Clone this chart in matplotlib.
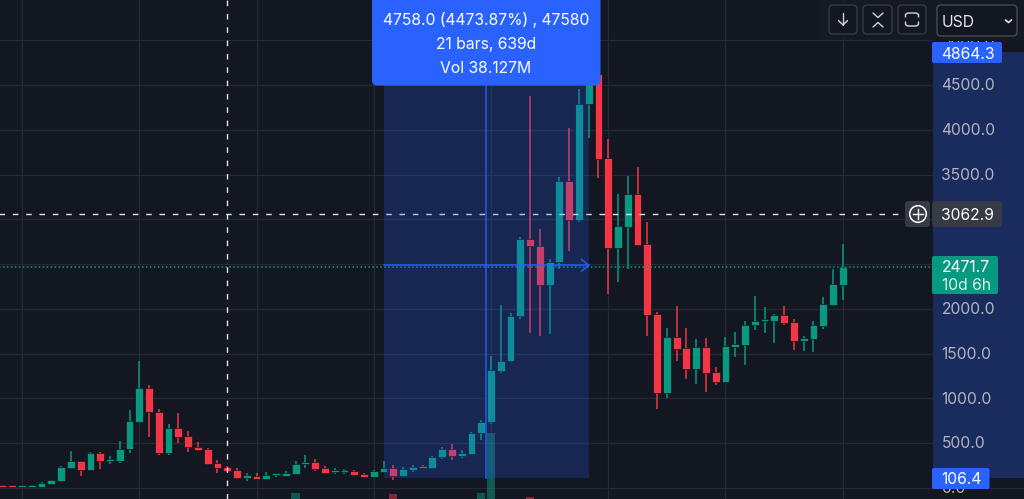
import matplotlib
matplotlib.use("Agg")
import numpy as np
import matplotlib.pyplot as plt
from matplotlib.patches import FancyBboxPatch, Rectangle, Circle

plt.rcParams['font.family'] = ['Inter', 'DejaVu Sans']

BG = '#131722'
GREEN = '#089981'
RED = '#F23645'
BLUE = '#2962FF'
FS = 11.3

opens = [20, 20, 10, 12, 12, 46, 72, 221, 295, 202, 389, 303, 303, 433, 739, 1111, 850, 392, 672, 575, 459, 433,
         277, 232, 195, 106, 135, 98, 139, 132, 154, 266, 292, 217, 173, 176, 184, 158, 120, 176, 217, 132, 202,
         243, 221, 340, 433, 355, 381, 612, 735, 1309, 1417, 1916, 2776, 2702, 2270, 2523, 3432, 2996, 4284, 4623,
         3681, 2683, 2918, 3283, 2728, 1942, 1063, 1681, 1558, 1323, 1573, 1294, 1186, 1577, 1599, 1819, 1867,
         1867, 1934, 1852, 1644, 1666, 1811, 2042, 2269]
closes = [8, 8, 22, 31, 53, 83, 232, 295, 202, 389, 295, 318, 437, 746, 1111, 843, 392, 672, 567, 452, 422, 269,
          225, 187, 106, 139, 102, 139, 154, 165, 266, 292, 210, 165, 195, 195, 147, 120, 187, 217, 132, 210, 236,
          225, 348, 433, 355, 389, 612, 735, 1312, 1417, 1916, 2776, 2698, 2270, 2523, 3432, 2996, 4284, 4623, 3670,
          2683, 2925, 3283, 2717, 1935, 1063, 1681, 1551, 1323, 1573, 1286, 1186, 1584, 1603, 1822, 1863, 1886,
          1934, 1845, 1640, 1677, 1815, 2053, 2280, 2471.7]
highs = [22, 22, 24, 35, 65, 90, 243, 415, 298, 396, 396, 355, 519, 869, 1420, 1152, 884, 713, 835, 631, 511, 440,
         307, 243, 221, 161, 161, 173, 154, 191, 295, 362, 322, 240, 221, 205, 199, 162, 195, 295, 251, 232, 251,
         254, 352, 456, 493, 422, 620, 757, 1472, 2039, 1949, 2799, 4378, 2892, 2553, 3469, 4024, 4456, 4864.3,
         4700, 3893, 3283, 3484, 3584, 2966, 1968, 1781, 2031, 1789, 1659, 1673, 1353, 1681, 1744, 1863, 2143,
         2016, 1945, 2031, 1882, 1696, 1867, 2131, 2444, 2720]
lows = [5, 5, 6, 10, 10, 40, 68, 214, 135, 198, 206, 269, 281, 392, 727, 567, 362, 362, 504, 403, 411, 251, 169,
        173, 98, 79, 96, 95, 120, 130, 150, 221, 187, 154, 154, 154, 135, 109, 118, 172, 87, 125, 176, 221, 215,
        322, 310, 333, 370, 534, 716, 1279, 1406, 1886, 1730, 1700, 1715, 2445, 2646, 2966, 3912, 3465, 2162, 2303,
        2445, 2700, 1700, 884, 1007, 1420, 1219, 1156, 1070, 1148, 1180, 1465, 1372, 1763, 1733, 1618, 1822, 1539,
        1528, 1521, 1774, 2030, 2098]
# volume bars poking up at the bottom of the chart, tops read in price-scale units
vol_index = [30, 40, 49, 50, 54]
vol_tops = [-58, -69, -58, 615, -100]

price_ticks = [0, 500, 1000, 1500, 2000, 2500, 3000, 3500, 4000, 4500, 5000]
tick_labels = ['0.0', '500.0', '1000.0', '1500.0', '2000.0', '', '', '3500.0', '4000.0', '4500.0', '5000.0']
grid_bars = [2, 14, 26, 38, 50, 62, 74, 86]

sel_start, sel_end = 39, 60
sel_low, sel_high = 106.4, 4864.3
last_price = 2471.7
cross_price = 3062.9
cross_bar = 23


fig = plt.figure(figsize=(10.24, 4.99), dpi=100, facecolor=BG)
ax = fig.add_axes([0, 0, 1, 1])
ax.set_facecolor(BG)
ax.axis('off')
ax.set_xlim(-2.5 / 9.77, (1024 - 2.5) / 9.77)
ax.set_ylim((487.8 - 499) / 0.0895, 487.8 / 0.0895)

# pixel overlay for the app chrome
ui = fig.add_axes([0, 0, 1, 1], zorder=10)
ui.set_xlim(0, 1024)
ui.set_ylim(499, 0)
ui.axis('off')
ui.patch.set_alpha(0)

axis_x = (933 - 2.5) / 9.77

for p in price_ticks:
    ax.axhline(p, color='#252934', lw=0.9, zorder=1)
for b in grid_bars:
    ax.axvline(b, color='#252934', lw=0.9, zorder=1)

# volume
for i, top in zip(vol_index, vol_tops):
    ax.bar(i, top + 125, bottom=-125, width=0.85, color=GREEN if closes[i] >= opens[i] else RED, alpha=0.5, zorder=2)

# candles
x = np.arange(len(opens))
colors = [GREEN if c >= o else RED for o, c in zip(opens, closes)]
ax.vlines(x, lows, highs, colors=colors, lw=1.1, zorder=3)
bottoms = [min(o, c) for o, c in zip(opens, closes)]
heights = [max(abs(c - o), 24) for o, c in zip(opens, closes)]
ax.bar(x, heights, bottom=bottoms, width=0.8, color=colors, edgecolor='#0c0f17', linewidth=0.45, zorder=4)

# last price + crosshair
ax.plot([-1, axis_x], [last_price, last_price], color=GREEN, lw=1.1, ls=(0, (1, 1.6)), zorder=5)
ax.plot([cross_bar, cross_bar], [-130, 5500], color='#e8e8ea', lw=1, ls=(0, (4, 5.6)), zorder=6)
ax.plot([-1, (905 - 2.5) / 9.77], [cross_price, cross_price], color='#e8e8ea', lw=1, ls=(0, (4, 5.6)), zorder=6)

# measure selection
ax.add_patch(Rectangle((sel_start, sel_low), sel_end - sel_start, sel_high - sel_low,
                       color=BLUE, alpha=0.22, lw=0, zorder=7))
ax.add_patch(Rectangle((axis_x, sel_low), 200, sel_high - sel_low, color='#1a2b5e', lw=0, zorder=1.5))
mid_bar = (sel_start + sel_end) / 2
mid = (sel_low + sel_high) / 2
ax.plot([mid_bar, mid_bar], [sel_low, sel_high], color=BLUE, lw=1.2, alpha=0.8, zorder=8)
ax.plot([sel_start, sel_end], [mid, mid], color=BLUE, lw=1.2, alpha=0.8, zorder=8)
ax.plot([sel_end - 0.75, sel_end, sel_end - 0.75], [mid + 67, mid, mid - 67], color=BLUE, lw=1.2, alpha=0.8, zorder=8)

# price axis text
for p, t in zip(price_ticks, tick_labels):
    if t:
        ax.text((941.5 - 2.5) / 9.77, p - 10, t, color='#b2b5be', fontsize=FS, va='center', ha='left', zorder=8)

# toolbar strip, opaque over the price axis so only the foot of 5000.0 shows
ui.add_patch(Rectangle((820, 0), 112, 40, color='#171b26', lw=0, alpha=0.6))
ui.add_patch(Rectangle((932, 0), 92, 41, color='#151924', lw=0))


def box(x0, y0, x1, y1, fc, ec='none', r=3, lw=0, z=11):
    ui.add_patch(FancyBboxPatch((x0 + r, y0 + r), x1 - x0 - 2 * r, y1 - y0 - 2 * r,
                                boxstyle=f'round,pad={r},rounding_size={r}',
                                fc=fc, ec=ec, lw=lw, zorder=z))


# tooltip
box(372, -6, 600.5, 85.5, BLUE, r=5)
ui.text(486, 20, '4758.0 (4473.87%) , 47580', color='white', fontsize=FS, ha='center', va='center', zorder=12)
ui.text(486, 44, '21 bars, 639d', color='white', fontsize=FS, ha='center', va='center', zorder=12)
ui.text(486, 68.5, 'Vol 38.127M', color='white', fontsize=FS, ha='center', va='center', zorder=12)

# axis labels
box(932, 42, 1002, 63, BLUE, r=2)
ui.text(941.5, 54, '4864.3', color='white', fontsize=FS, va='center', zorder=12)
box(932, 468, 989.5, 489, BLUE, r=2)
ui.text(941.5, 479.5, '106.4', color='white', fontsize=FS, va='center', zorder=12)
box(932, 201, 1002, 227, '#363a45', r=3)
ui.text(941.5, 215, '3062.9', color='white', fontsize=FS, va='center', zorder=12)
box(932, 256, 998, 294, GREEN, r=2)
ui.text(941.5, 268, '2471.7', color='white', fontsize=FS, va='center', zorder=12)
ui.text(941.5, 285, '10d 6h', color='#d7efe9', fontsize=FS, va='center', zorder=12)

# plus button
box(905, 201, 930, 227, '#363a45', r=3)
ui.add_patch(Circle((918, 214), 8.3, fc='none', ec='white', lw=1.1, zorder=12))
ui.plot([913, 923], [214, 214], color='white', lw=1, zorder=12)
ui.plot([918, 918], [209, 219], color='white', lw=1, zorder=12)

# toolbar buttons
for x0, x1 in [(829, 857), (863, 892), (898, 926)]:
    box(x0, 5, x1, 34, BG, ec='#363a45', r=4, lw=1)
box(937, 5, 1017, 36, BG, ec='#434651', r=4, lw=1.1)
ui.text(942, 22, 'USD', color='#e6e7ea', fontsize=FS, va='center', zorder=12)

ic = dict(color='#d1d4dc', lw=1, zorder=12, solid_capstyle='round')
# down arrow
ui.plot([843, 843], [13, 25], **ic)
ui.plot([838.5, 843, 847.5], [20.5, 25, 20.5], **ic)
# collapse chevrons
ui.plot([873, 878, 883], [13, 17.5, 13], **ic)
ui.plot([873, 878, 883], [27, 22.5, 27], **ic)
# frame
ui.plot([905.5, 905.5, 907.5, 916.5, 918.5, 918.5], [17, 14.5, 13, 13, 14.5, 17], **ic)
ui.plot([905.5, 905.5, 907.5, 916.5, 918.5, 918.5], [22, 24.5, 26, 26, 24.5, 22], **ic)
# select caret
ui.plot([1005.5, 1008.5, 1011.5], [20, 22.5, 20], color='#e6e7ea', lw=1.2, zorder=12, solid_capstyle='round')

fig.savefig('out.png', dpi=100, facecolor=BG)
